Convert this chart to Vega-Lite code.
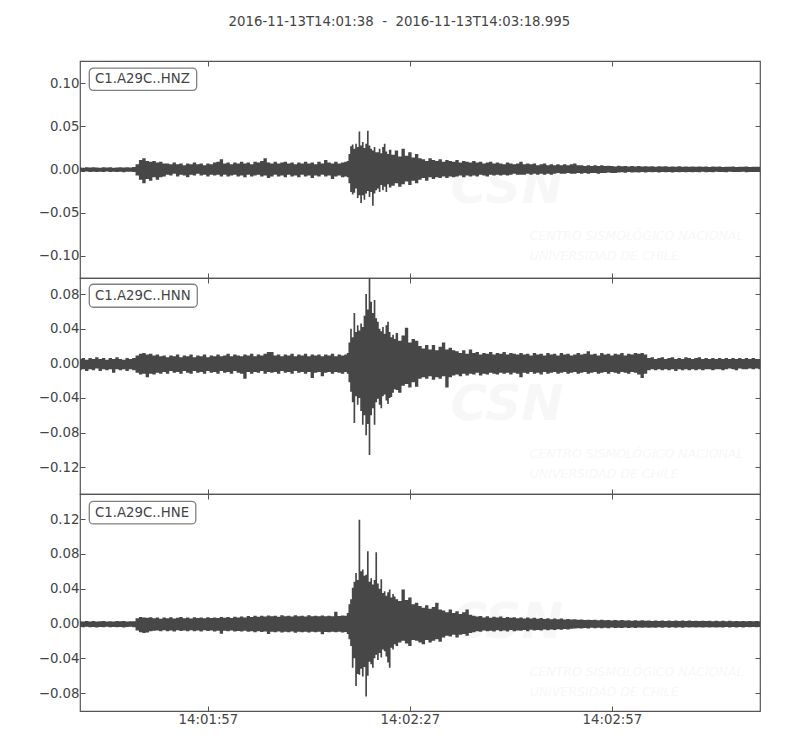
{
"$schema":"https://vega.github.io/schema/vega-lite/v6.json",
"background":"white",
"padding":{"left":37,"top":14,"right":40,"bottom":5},
"title":{"text":"2016-11-13T14:01:38\u00a0\u00a0-\u00a0\u00a02016-11-13T14:03:18.995","anchor":"middle","frame":"bounds","fontSize":13.3,"fontWeight":"normal","font":"DejaVu Sans","color":"#444444","offset":32},
"spacing":0,
"bounds":"flush",
"config":{"view":{"stroke":"#555555","strokeWidth":1.2},"axis":{"labelFont":"DejaVu Sans","labelFontSize":13.3,"labelColor":"#444444","tickColor":"#555555","tickSize":-5,"domain":false,"grid":false,"title":null,"labelPadding":6},"text":{"font":"DejaVu Sans"}},
"datasets":{
"hnz":[
{"t":0,"lo":-0.0026,"hi":0.0024},{"t":0.5,"lo":-0.0029,"hi":0.0021},{"t":1,"lo":-0.0024,"hi":0.0026},{"t":1.5,"lo":-0.003,"hi":0.0022},{"t":2,"lo":-0.0025,"hi":0.0027},{"t":2.5,"lo":-0.0028,"hi":0.0023},{"t":3,"lo":-0.0026,"hi":0.002},{"t":3.5,"lo":-0.003,"hi":0.0025},{"t":4,"lo":-0.0024,"hi":0.0022},{"t":4.5,"lo":-0.0028,"hi":0.0026},{"t":5,"lo":-0.0025,"hi":0.0021},{"t":5.5,"lo":-0.0029,"hi":0.0024},{"t":6,"lo":-0.0026,"hi":0.0027},{"t":6.5,"lo":-0.0031,"hi":0.0022},{"t":7,"lo":-0.0027,"hi":0.0025},{"t":7.5,"lo":-0.0025,"hi":0.0023},{"t":8,"lo":-0.003,"hi":0.0028},
{"t":8.5,"lo":-0.007,"hi":0.006},{"t":9,"lo":-0.012,"hi":0.011},{"t":9.5,"lo":-0.016,"hi":0.013},{"t":10,"lo":-0.011,"hi":0.01},{"t":10.5,"lo":-0.013,"hi":0.009},{"t":11,"lo":-0.009,"hi":0.01},{"t":11.5,"lo":-0.012,"hi":0.008},{"t":12,"lo":-0.009,"hi":0.009},{"t":12.5,"lo":-0.008,"hi":0.007},
{"t":13,"lo":-0.006,"hi":0.007},{"t":13.5,"lo":-0.007,"hi":0.006},{"t":14,"lo":-0.005,"hi":0.008},{"t":14.5,"lo":-0.008,"hi":0.006},{"t":15,"lo":-0.006,"hi":0.007},{"t":15.5,"lo":-0.007,"hi":0.005},{"t":16,"lo":-0.009,"hi":0.007},{"t":16.5,"lo":-0.006,"hi":0.006},{"t":17,"lo":-0.007,"hi":0.008},{"t":17.5,"lo":-0.005,"hi":0.006},{"t":18,"lo":-0.007,"hi":0.007},{"t":18.5,"lo":-0.006,"hi":0.005},{"t":19,"lo":-0.008,"hi":0.007},{"t":19.5,"lo":-0.006,"hi":0.006},{"t":20,"lo":-0.007,"hi":0.008},{"t":20.5,"lo":-0.006,"hi":0.009},{"t":21,"lo":-0.008,"hi":0.012},{"t":21.5,"lo":-0.006,"hi":0.007},{"t":22,"lo":-0.008,"hi":0.008},{"t":22.5,"lo":-0.007,"hi":0.006},{"t":23,"lo":-0.006,"hi":0.008},{"t":23.5,"lo":-0.008,"hi":0.007},{"t":24,"lo":-0.007,"hi":0.009},{"t":24.5,"lo":-0.009,"hi":0.007},{"t":25,"lo":-0.006,"hi":0.008},{"t":25.5,"lo":-0.008,"hi":0.006},{"t":26,"lo":-0.007,"hi":0.009},{"t":26.5,"lo":-0.006,"hi":0.008},{"t":27,"lo":-0.008,"hi":0.01},{"t":27.5,"lo":-0.007,"hi":0.013},{"t":28,"lo":-0.01,"hi":0.008},{"t":28.5,"lo":-0.008,"hi":0.007},{"t":29,"lo":-0.006,"hi":0.009},{"t":29.5,"lo":-0.008,"hi":0.007},{"t":30,"lo":-0.007,"hi":0.008},{"t":30.5,"lo":-0.009,"hi":0.009},{"t":31,"lo":-0.006,"hi":0.007},{"t":31.5,"lo":-0.008,"hi":0.008},{"t":32,"lo":-0.007,"hi":0.006},{"t":32.5,"lo":-0.009,"hi":0.008},{"t":33,"lo":-0.006,"hi":0.007},{"t":33.5,"lo":-0.008,"hi":0.009},{"t":34,"lo":-0.007,"hi":0.007},{"t":34.5,"lo":-0.01,"hi":0.008},{"t":35,"lo":-0.007,"hi":0.006},{"t":35.5,"lo":-0.008,"hi":0.009},{"t":36,"lo":-0.006,"hi":0.007},{"t":36.5,"lo":-0.008,"hi":0.011},{"t":37,"lo":-0.007,"hi":0.008},{"t":37.5,"lo":-0.011,"hi":0.007},{"t":38,"lo":-0.008,"hi":0.009},{"t":38.5,"lo":-0.007,"hi":0.007},{"t":39,"lo":-0.009,"hi":0.008},{"t":39.5,"lo":-0.008,"hi":0.009},
{"t":39.75,"lo":-0.009,"hi":0.01},{"t":40,"lo":-0.016,"hi":0.018},{"t":40.25,"lo":-0.026,"hi":0.027},{"t":40.5,"lo":-0.029,"hi":0.029},{"t":40.75,"lo":-0.027,"hi":0.024},{"t":41,"lo":-0.022,"hi":0.03},{"t":41.25,"lo":-0.033,"hi":0.026},{"t":41.5,"lo":-0.03,"hi":0.044},{"t":41.75,"lo":-0.039,"hi":0.028},{"t":42,"lo":-0.03,"hi":0.032},{"t":42.25,"lo":-0.035,"hi":0.025},{"t":42.5,"lo":-0.028,"hi":0.03},{"t":42.75,"lo":-0.025,"hi":0.045},{"t":43,"lo":-0.032,"hi":0.028},{"t":43.25,"lo":-0.026,"hi":0.024},{"t":43.5,"lo":-0.042,"hi":0.022},{"t":43.75,"lo":-0.028,"hi":0.026},{"t":44,"lo":-0.024,"hi":0.02},{"t":44.25,"lo":-0.022,"hi":0.02},{"t":44.5,"lo":-0.026,"hi":0.024},{"t":44.75,"lo":-0.018,"hi":0.019},{"t":45,"lo":-0.024,"hi":0.026},{"t":45.25,"lo":-0.02,"hi":0.03},{"t":45.5,"lo":-0.026,"hi":0.021},{"t":45.75,"lo":-0.017,"hi":0.018},{"t":46,"lo":-0.021,"hi":0.023},{"t":46.5,"lo":-0.019,"hi":0.017},{"t":47,"lo":-0.016,"hi":0.022},{"t":47.5,"lo":-0.02,"hi":0.015},{"t":48,"lo":-0.017,"hi":0.024},{"t":48.5,"lo":-0.014,"hi":0.016},{"t":49,"lo":-0.018,"hi":0.02},{"t":49.5,"lo":-0.013,"hi":0.014},{"t":50,"lo":-0.016,"hi":0.018},{"t":50.5,"lo":-0.012,"hi":0.013},
{"t":51,"lo":-0.01,"hi":0.012},{"t":51.5,"lo":-0.013,"hi":0.01},{"t":52,"lo":-0.009,"hi":0.013},{"t":52.5,"lo":-0.011,"hi":0.011},{"t":53,"lo":-0.009,"hi":0.01},{"t":53.5,"lo":-0.01,"hi":0.012},{"t":54,"lo":-0.008,"hi":0.009},{"t":54.5,"lo":-0.01,"hi":0.011},{"t":55,"lo":-0.008,"hi":0.01},{"t":55.5,"lo":-0.009,"hi":0.009},{"t":56,"lo":-0.008,"hi":0.011},{"t":56.5,"lo":-0.007,"hi":0.008},{"t":57,"lo":-0.009,"hi":0.01},{"t":57.5,"lo":-0.007,"hi":0.009},{"t":58,"lo":-0.008,"hi":0.008},{"t":58.5,"lo":-0.007,"hi":0.01},{"t":59,"lo":-0.008,"hi":0.008},{"t":59.5,"lo":-0.006,"hi":0.009},{"t":60,"lo":-0.007,"hi":0.007},{"t":60.5,"lo":-0.008,"hi":0.008},{"t":61,"lo":-0.006,"hi":0.009},{"t":61.5,"lo":-0.007,"hi":0.007},{"t":62,"lo":-0.006,"hi":0.008},{"t":62.5,"lo":-0.007,"hi":0.007},{"t":63,"lo":-0.006,"hi":0.006},{"t":63.5,"lo":-0.007,"hi":0.008},{"t":64,"lo":-0.006,"hi":0.007},{"t":64.5,"lo":-0.005,"hi":0.006},{"t":65,"lo":-0.006,"hi":0.007},{"t":65.5,"lo":-0.006,"hi":0.009},{"t":66,"lo":-0.006,"hi":0.006},{"t":66.5,"lo":-0.005,"hi":0.007},{"t":67,"lo":-0.006,"hi":0.006},{"t":67.5,"lo":-0.005,"hi":0.007},{"t":68,"lo":-0.006,"hi":0.005},{"t":68.5,"lo":-0.005,"hi":0.006},{"t":69,"lo":-0.006,"hi":0.007},{"t":69.5,"lo":-0.005,"hi":0.005},{"t":70,"lo":-0.006,"hi":0.006},{"t":70.5,"lo":-0.005,"hi":0.005},{"t":71,"lo":-0.004,"hi":0.006},{"t":71.5,"lo":-0.005,"hi":0.005},{"t":72,"lo":-0.005,"hi":0.006},{"t":72.5,"lo":-0.004,"hi":0.005},{"t":73,"lo":-0.005,"hi":0.006},{"t":73.5,"lo":-0.005,"hi":0.007},{"t":74,"lo":-0.004,"hi":0.005},{"t":74.5,"lo":-0.005,"hi":0.005},{"t":75,"lo":-0.004,"hi":0.004},{"t":75.5,"lo":-0.005,"hi":0.005},{"t":76,"lo":-0.004,"hi":0.004},{"t":76.5,"lo":-0.004,"hi":0.005},{"t":77,"lo":-0.005,"hi":0.004},{"t":77.5,"lo":-0.004,"hi":0.005},{"t":78,"lo":-0.004,"hi":0.004},{"t":78.5,"lo":-0.0035,"hi":0.0045},{"t":79,"lo":-0.004,"hi":0.004},{"t":79.5,"lo":-0.004,"hi":0.0035},{"t":80,"lo":-0.0035,"hi":0.0045},{"t":80.5,"lo":-0.0032,"hi":0.0038},{"t":81,"lo":-0.0038,"hi":0.0042},{"t":81.5,"lo":-0.003,"hi":0.0035},{"t":82,"lo":-0.0036,"hi":0.004},{"t":82.5,"lo":-0.0031,"hi":0.0036},{"t":83,"lo":-0.0035,"hi":0.0041},{"t":83.5,"lo":-0.003,"hi":0.0034},{"t":84,"lo":-0.0034,"hi":0.0039},{"t":84.5,"lo":-0.0029,"hi":0.0035},{"t":85,"lo":-0.0033,"hi":0.0038},{"t":85.5,"lo":-0.003,"hi":0.0033},{"t":86,"lo":-0.0034,"hi":0.0037},{"t":86.5,"lo":-0.0029,"hi":0.0034},{"t":87,"lo":-0.0032,"hi":0.0038},{"t":87.5,"lo":-0.003,"hi":0.0032},{"t":88,"lo":-0.0034,"hi":0.0036},{"t":88.5,"lo":-0.0028,"hi":0.0033},{"t":89,"lo":-0.0032,"hi":0.0037},{"t":89.5,"lo":-0.0029,"hi":0.0032},{"t":90,"lo":-0.0033,"hi":0.0035},{"t":90.5,"lo":-0.0028,"hi":0.0031},{"t":91,"lo":-0.0031,"hi":0.0036},{"t":91.5,"lo":-0.0029,"hi":0.0032},{"t":92,"lo":-0.0032,"hi":0.0035},{"t":92.5,"lo":-0.0027,"hi":0.0031},{"t":93,"lo":-0.0031,"hi":0.0034},{"t":93.5,"lo":-0.0028,"hi":0.003},{"t":94,"lo":-0.0032,"hi":0.0035},{"t":94.5,"lo":-0.0027,"hi":0.0031},{"t":95,"lo":-0.003,"hi":0.0034},{"t":95.5,"lo":-0.0028,"hi":0.003},{"t":96,"lo":-0.0031,"hi":0.0033},{"t":96.5,"lo":-0.0027,"hi":0.0031},{"t":97,"lo":-0.003,"hi":0.0034},{"t":97.5,"lo":-0.0028,"hi":0.003},{"t":98,"lo":-0.003,"hi":0.0033},{"t":98.5,"lo":-0.0027,"hi":0.0031},{"t":99,"lo":-0.0031,"hi":0.0034},{"t":99.5,"lo":-0.0028,"hi":0.003},{"t":100,"lo":-0.0029,"hi":0.0033},{"t":100.5,"lo":-0.0028,"hi":0.0031},{"t":101,"lo":-0.003,"hi":0.0032}
],
"hnn":[
{"t":0,"lo":-0.008,"hi":0.005},{"t":0.5,"lo":-0.007,"hi":0.006},{"t":1,"lo":-0.009,"hi":0.004},{"t":1.5,"lo":-0.007,"hi":0.006},{"t":2,"lo":-0.008,"hi":0.005},{"t":2.5,"lo":-0.006,"hi":0.007},{"t":3,"lo":-0.009,"hi":0.005},{"t":3.5,"lo":-0.007,"hi":0.006},{"t":4,"lo":-0.008,"hi":0.004},{"t":4.5,"lo":-0.007,"hi":0.006},{"t":5,"lo":-0.011,"hi":0.005},{"t":5.5,"lo":-0.007,"hi":0.007},{"t":6,"lo":-0.008,"hi":0.005},{"t":6.5,"lo":-0.007,"hi":0.004},{"t":7,"lo":-0.009,"hi":0.006},{"t":7.5,"lo":-0.007,"hi":0.005},{"t":8,"lo":-0.008,"hi":0.006},
{"t":8.5,"lo":-0.011,"hi":0.009},{"t":9,"lo":-0.013,"hi":0.011},{"t":9.5,"lo":-0.012,"hi":0.012},{"t":10,"lo":-0.016,"hi":0.01},{"t":10.5,"lo":-0.012,"hi":0.011},{"t":11,"lo":-0.013,"hi":0.009},{"t":11.5,"lo":-0.011,"hi":0.01},{"t":12,"lo":-0.012,"hi":0.008},{"t":12.5,"lo":-0.01,"hi":0.009},
{"t":13,"lo":-0.012,"hi":0.007},{"t":13.5,"lo":-0.009,"hi":0.009},{"t":14,"lo":-0.011,"hi":0.008},{"t":14.5,"lo":-0.01,"hi":0.01},{"t":15,"lo":-0.012,"hi":0.007},{"t":15.5,"lo":-0.009,"hi":0.009},{"t":16,"lo":-0.011,"hi":0.008},{"t":16.5,"lo":-0.012,"hi":0.01},{"t":17,"lo":-0.009,"hi":0.007},{"t":17.5,"lo":-0.011,"hi":0.009},{"t":18,"lo":-0.01,"hi":0.008},{"t":18.5,"lo":-0.012,"hi":0.01},{"t":19,"lo":-0.009,"hi":0.007},{"t":19.5,"lo":-0.011,"hi":0.009},{"t":20,"lo":-0.01,"hi":0.008},{"t":20.5,"lo":-0.012,"hi":0.01},{"t":21,"lo":-0.009,"hi":0.008},{"t":21.5,"lo":-0.011,"hi":0.009},{"t":22,"lo":-0.01,"hi":0.011},{"t":22.5,"lo":-0.012,"hi":0.008},{"t":23,"lo":-0.009,"hi":0.01},{"t":23.5,"lo":-0.011,"hi":0.009},{"t":24,"lo":-0.012,"hi":0.008},{"t":24.5,"lo":-0.018,"hi":0.01},{"t":25,"lo":-0.01,"hi":0.009},{"t":25.5,"lo":-0.012,"hi":0.011},{"t":26,"lo":-0.01,"hi":0.008},{"t":26.5,"lo":-0.011,"hi":0.01},{"t":27,"lo":-0.009,"hi":0.009},{"t":27.5,"lo":-0.012,"hi":0.011},{"t":28,"lo":-0.01,"hi":0.013},{"t":28.5,"lo":-0.011,"hi":0.013},{"t":29,"lo":-0.01,"hi":0.009},{"t":29.5,"lo":-0.012,"hi":0.01},{"t":30,"lo":-0.009,"hi":0.008},{"t":30.5,"lo":-0.011,"hi":0.01},{"t":31,"lo":-0.01,"hi":0.009},{"t":31.5,"lo":-0.012,"hi":0.011},{"t":32,"lo":-0.009,"hi":0.008},{"t":32.5,"lo":-0.011,"hi":0.01},{"t":33,"lo":-0.01,"hi":0.009},{"t":33.5,"lo":-0.012,"hi":0.011},{"t":34,"lo":-0.01,"hi":0.008},{"t":34.5,"lo":-0.017,"hi":0.01},{"t":35,"lo":-0.011,"hi":0.009},{"t":35.5,"lo":-0.01,"hi":0.01},{"t":36,"lo":-0.015,"hi":0.008},{"t":36.5,"lo":-0.011,"hi":0.01},{"t":37,"lo":-0.01,"hi":0.009},{"t":37.5,"lo":-0.012,"hi":0.011},{"t":38,"lo":-0.01,"hi":0.008},{"t":38.5,"lo":-0.011,"hi":0.01},{"t":39,"lo":-0.012,"hi":0.009},{"t":39.5,"lo":-0.01,"hi":0.01},
{"t":39.75,"lo":-0.012,"hi":0.012},{"t":40,"lo":-0.022,"hi":0.024},{"t":40.25,"lo":-0.033,"hi":0.04},{"t":40.5,"lo":-0.045,"hi":0.03},{"t":40.75,"lo":-0.069,"hi":0.058},{"t":41,"lo":-0.038,"hi":0.036},{"t":41.25,"lo":-0.048,"hi":0.044},{"t":41.5,"lo":-0.04,"hi":0.038},{"t":41.75,"lo":-0.055,"hi":0.046},{"t":42,"lo":-0.071,"hi":0.042},{"t":42.25,"lo":-0.06,"hi":0.055},{"t":42.5,"lo":-0.083,"hi":0.08},{"t":42.75,"lo":-0.07,"hi":0.062},{"t":43,"lo":-0.106,"hi":0.0985},{"t":43.25,"lo":-0.06,"hi":0.071},{"t":43.5,"lo":-0.052,"hi":0.058},{"t":43.75,"lo":-0.071,"hi":0.073},{"t":44,"lo":-0.045,"hi":0.052},{"t":44.25,"lo":-0.041,"hi":0.048},{"t":44.5,"lo":-0.048,"hi":0.04},{"t":44.75,"lo":-0.052,"hi":0.037},{"t":45,"lo":-0.038,"hi":0.042},{"t":45.25,"lo":-0.036,"hi":0.034},{"t":45.5,"lo":-0.043,"hi":0.044},{"t":45.75,"lo":-0.047,"hi":0.048},{"t":46,"lo":-0.04,"hi":0.036},{"t":46.25,"lo":-0.039,"hi":0.03},{"t":46.5,"lo":-0.034,"hi":0.033},{"t":46.75,"lo":-0.03,"hi":0.028},{"t":47,"lo":-0.031,"hi":0.035},{"t":47.5,"lo":-0.034,"hi":0.026},{"t":48,"lo":-0.026,"hi":0.032},{"t":48.5,"lo":-0.024,"hi":0.041},{"t":49,"lo":-0.028,"hi":0.024},{"t":49.5,"lo":-0.022,"hi":0.028},{"t":50,"lo":-0.027,"hi":0.026},{"t":50.5,"lo":-0.018,"hi":0.02},
{"t":51,"lo":-0.016,"hi":0.017},{"t":51.5,"lo":-0.018,"hi":0.021},{"t":52,"lo":-0.015,"hi":0.016},{"t":52.5,"lo":-0.019,"hi":0.021},{"t":53,"lo":-0.016,"hi":0.015},{"t":53.5,"lo":-0.018,"hi":0.019},{"t":54,"lo":-0.015,"hi":0.024},{"t":54.5,"lo":-0.028,"hi":0.016},{"t":55,"lo":-0.016,"hi":0.018},{"t":55.5,"lo":-0.014,"hi":0.015},{"t":56,"lo":-0.013,"hi":0.014},{"t":56.5,"lo":-0.015,"hi":0.012},{"t":57,"lo":-0.012,"hi":0.015},{"t":57.5,"lo":-0.014,"hi":0.011},{"t":58,"lo":-0.012,"hi":0.016},{"t":58.5,"lo":-0.013,"hi":0.012},{"t":59,"lo":-0.011,"hi":0.013},{"t":59.5,"lo":-0.014,"hi":0.01},{"t":60,"lo":-0.012,"hi":0.012},{"t":60.5,"lo":-0.013,"hi":0.011},{"t":61,"lo":-0.011,"hi":0.013},{"t":61.5,"lo":-0.012,"hi":0.01},{"t":62,"lo":-0.013,"hi":0.012},{"t":62.5,"lo":-0.011,"hi":0.011},{"t":63,"lo":-0.012,"hi":0.013},{"t":63.5,"lo":-0.011,"hi":0.01},{"t":64,"lo":-0.013,"hi":0.012},{"t":64.5,"lo":-0.011,"hi":0.011},{"t":65,"lo":-0.012,"hi":0.01},{"t":65.5,"lo":-0.016,"hi":0.012},{"t":66,"lo":-0.011,"hi":0.01},{"t":66.5,"lo":-0.012,"hi":0.011},{"t":67,"lo":-0.01,"hi":0.009},{"t":67.5,"lo":-0.012,"hi":0.012},{"t":68,"lo":-0.011,"hi":0.01},{"t":68.5,"lo":-0.013,"hi":0.011},{"t":69,"lo":-0.01,"hi":0.009},{"t":69.5,"lo":-0.012,"hi":0.012},{"t":70,"lo":-0.011,"hi":0.01},{"t":70.5,"lo":-0.01,"hi":0.011},{"t":71,"lo":-0.012,"hi":0.009},{"t":71.5,"lo":-0.011,"hi":0.012},{"t":72,"lo":-0.01,"hi":0.01},{"t":72.5,"lo":-0.012,"hi":0.011},{"t":73,"lo":-0.011,"hi":0.009},{"t":73.5,"lo":-0.01,"hi":0.01},{"t":74,"lo":-0.012,"hi":0.012},{"t":74.5,"lo":-0.011,"hi":0.01},{"t":75,"lo":-0.01,"hi":0.011},{"t":75.5,"lo":-0.012,"hi":0.014},{"t":76,"lo":-0.011,"hi":0.01},{"t":76.5,"lo":-0.01,"hi":0.011},{"t":77,"lo":-0.012,"hi":0.009},{"t":77.5,"lo":-0.011,"hi":0.012},{"t":78,"lo":-0.01,"hi":0.01},{"t":78.5,"lo":-0.012,"hi":0.011},{"t":79,"lo":-0.01,"hi":0.009},{"t":79.5,"lo":-0.011,"hi":0.011},{"t":80,"lo":-0.012,"hi":0.01},{"t":80.5,"lo":-0.01,"hi":0.012},{"t":81,"lo":-0.011,"hi":0.009},{"t":81.5,"lo":-0.012,"hi":0.011},{"t":82,"lo":-0.01,"hi":0.01},{"t":82.5,"lo":-0.011,"hi":0.012},{"t":83,"lo":-0.013,"hi":0.011},{"t":83.5,"lo":-0.017,"hi":0.012},{"t":84,"lo":-0.012,"hi":0.01},
{"t":84.5,"lo":-0.008,"hi":0.006},{"t":85,"lo":-0.007,"hi":0.007},{"t":85.5,"lo":-0.008,"hi":0.005},{"t":86,"lo":-0.007,"hi":0.006},{"t":86.5,"lo":-0.008,"hi":0.007},{"t":87,"lo":-0.007,"hi":0.005},{"t":87.5,"lo":-0.008,"hi":0.006},{"t":88,"lo":-0.007,"hi":0.007},{"t":88.5,"lo":-0.009,"hi":0.005},{"t":89,"lo":-0.007,"hi":0.006},{"t":89.5,"lo":-0.008,"hi":0.005},{"t":90,"lo":-0.007,"hi":0.007},{"t":90.5,"lo":-0.008,"hi":0.006},{"t":91,"lo":-0.007,"hi":0.005},{"t":91.5,"lo":-0.008,"hi":0.006},{"t":92,"lo":-0.007,"hi":0.007},{"t":92.5,"lo":-0.008,"hi":0.005},{"t":93,"lo":-0.007,"hi":0.006},{"t":93.5,"lo":-0.007,"hi":0.005},{"t":94,"lo":-0.008,"hi":0.006},{"t":94.5,"lo":-0.007,"hi":0.005},{"t":95,"lo":-0.007,"hi":0.006},{"t":95.5,"lo":-0.008,"hi":0.005},{"t":96,"lo":-0.007,"hi":0.006},{"t":96.5,"lo":-0.006,"hi":0.005},{"t":97,"lo":-0.007,"hi":0.006},{"t":97.5,"lo":-0.008,"hi":0.005},{"t":98,"lo":-0.006,"hi":0.006},{"t":98.5,"lo":-0.007,"hi":0.005},{"t":99,"lo":-0.007,"hi":0.006},{"t":99.5,"lo":-0.006,"hi":0.005},{"t":100,"lo":-0.007,"hi":0.006},{"t":100.5,"lo":-0.006,"hi":0.005},{"t":101,"lo":-0.007,"hi":0.005}
],
"hne":[
{"t":0,"lo":-0.004,"hi":0.0027},{"t":0.5,"lo":-0.0044,"hi":0.0023},{"t":1,"lo":-0.0038,"hi":0.0028},{"t":1.5,"lo":-0.0043,"hi":0.0024},{"t":2,"lo":-0.0039,"hi":0.0029},{"t":2.5,"lo":-0.0045,"hi":0.0022},{"t":3,"lo":-0.004,"hi":0.0026},{"t":3.5,"lo":-0.0042,"hi":0.003},{"t":4,"lo":-0.0038,"hi":0.0024},{"t":4.5,"lo":-0.0044,"hi":0.0027},{"t":5,"lo":-0.004,"hi":0.0023},{"t":5.5,"lo":-0.0043,"hi":0.0028},{"t":6,"lo":-0.0039,"hi":0.0025},{"t":6.5,"lo":-0.0045,"hi":0.0029},{"t":7,"lo":-0.0041,"hi":0.0024},{"t":7.5,"lo":-0.0038,"hi":0.0027},{"t":8,"lo":-0.0042,"hi":0.0025},
{"t":8.5,"lo":-0.008,"hi":0.006},{"t":9,"lo":-0.01,"hi":0.0075},{"t":9.5,"lo":-0.011,"hi":0.007},{"t":10,"lo":-0.0105,"hi":0.0065},{"t":10.5,"lo":-0.009,"hi":0.0072},{"t":11,"lo":-0.0085,"hi":0.006},{"t":11.5,"lo":-0.008,"hi":0.0068},{"t":12,"lo":-0.009,"hi":0.0055},{"t":12.5,"lo":-0.0078,"hi":0.007},{"t":13,"lo":-0.0088,"hi":0.006},{"t":13.5,"lo":-0.0082,"hi":0.0072},{"t":14,"lo":-0.0092,"hi":0.0058},{"t":14.5,"lo":-0.0079,"hi":0.0066},{"t":15,"lo":-0.0087,"hi":0.0074},{"t":15.5,"lo":-0.008,"hi":0.006},{"t":16,"lo":-0.009,"hi":0.0068},{"t":16.5,"lo":-0.0078,"hi":0.0058},{"t":17,"lo":-0.0088,"hi":0.0072},{"t":17.5,"lo":-0.0082,"hi":0.0062},{"t":18,"lo":-0.0091,"hi":0.007},{"t":18.5,"lo":-0.0079,"hi":0.0059},{"t":19,"lo":-0.0086,"hi":0.0073},{"t":19.5,"lo":-0.0081,"hi":0.0064},{"t":20,"lo":-0.0092,"hi":0.007},{"t":20.5,"lo":-0.0084,"hi":0.0062},{"t":21,"lo":-0.0118,"hi":0.0076},{"t":21.5,"lo":-0.0085,"hi":0.0066},{"t":22,"lo":-0.009,"hi":0.0074},{"t":22.5,"lo":-0.0082,"hi":0.0063},{"t":23,"lo":-0.0093,"hi":0.0078},{"t":23.5,"lo":-0.0086,"hi":0.0068},{"t":24,"lo":-0.0091,"hi":0.008},{"t":24.5,"lo":-0.0084,"hi":0.007},{"t":25,"lo":-0.0095,"hi":0.0085},{"t":25.5,"lo":-0.0088,"hi":0.0074},{"t":26,"lo":-0.01,"hi":0.009},{"t":26.5,"lo":-0.009,"hi":0.0078},{"t":27,"lo":-0.0098,"hi":0.0088},{"t":27.5,"lo":-0.0092,"hi":0.008},{"t":28,"lo":-0.0122,"hi":0.0092},{"t":28.5,"lo":-0.0096,"hi":0.0082},{"t":29,"lo":-0.01,"hi":0.009},{"t":29.5,"lo":-0.0092,"hi":0.0078},{"t":30,"lo":-0.0104,"hi":0.0094},{"t":30.5,"lo":-0.0094,"hi":0.0084},{"t":31,"lo":-0.01,"hi":0.009},{"t":31.5,"lo":-0.0092,"hi":0.008},{"t":32,"lo":-0.0106,"hi":0.0096},{"t":32.5,"lo":-0.0096,"hi":0.0084},{"t":33,"lo":-0.01,"hi":0.009},{"t":33.5,"lo":-0.0094,"hi":0.008},{"t":34,"lo":-0.0104,"hi":0.0094},{"t":34.5,"lo":-0.0096,"hi":0.0084},{"t":35,"lo":-0.0102,"hi":0.009},{"t":35.5,"lo":-0.0094,"hi":0.0082},{"t":36,"lo":-0.0125,"hi":0.0092},{"t":36.5,"lo":-0.0098,"hi":0.0084},{"t":37,"lo":-0.0102,"hi":0.009},{"t":37.5,"lo":-0.0094,"hi":0.0082},{"t":38,"lo":-0.01,"hi":0.0134},{"t":38.5,"lo":-0.0096,"hi":0.0086},{"t":39,"lo":-0.0104,"hi":0.0092},{"t":39.5,"lo":-0.0098,"hi":0.009},
{"t":39.75,"lo":-0.012,"hi":0.012},{"t":40,"lo":-0.018,"hi":0.022},{"t":40.25,"lo":-0.026,"hi":0.028},{"t":40.5,"lo":-0.051,"hi":0.041},{"t":40.75,"lo":-0.04,"hi":0.048},{"t":41,"lo":-0.072,"hi":0.058},{"t":41.25,"lo":-0.058,"hi":0.05},{"t":41.5,"lo":-0.059,"hi":0.1195},{"t":41.75,"lo":-0.052,"hi":0.06},{"t":42,"lo":-0.061,"hi":0.062},{"t":42.25,"lo":-0.05,"hi":0.055},{"t":42.5,"lo":-0.084,"hi":0.056},{"t":42.75,"lo":-0.06,"hi":0.083},{"t":43,"lo":-0.044,"hi":0.048},{"t":43.25,"lo":-0.047,"hi":0.052},{"t":43.5,"lo":-0.051,"hi":0.045},{"t":43.75,"lo":-0.04,"hi":0.05},{"t":44,"lo":-0.036,"hi":0.082},{"t":44.25,"lo":-0.042,"hi":0.046},{"t":44.5,"lo":-0.034,"hi":0.04},{"t":44.75,"lo":-0.039,"hi":0.051},{"t":45,"lo":-0.03,"hi":0.035},{"t":45.25,"lo":-0.032,"hi":0.037},{"t":45.5,"lo":-0.038,"hi":0.032},{"t":45.75,"lo":-0.045,"hi":0.036},{"t":46,"lo":-0.051,"hi":0.039},{"t":46.25,"lo":-0.028,"hi":0.03},{"t":46.5,"lo":-0.03,"hi":0.034},{"t":46.75,"lo":-0.024,"hi":0.031},{"t":47,"lo":-0.026,"hi":0.028},{"t":47.5,"lo":-0.022,"hi":0.026},{"t":48,"lo":-0.02,"hi":0.039},{"t":48.5,"lo":-0.023,"hi":0.027},{"t":49,"lo":-0.026,"hi":0.03},{"t":49.5,"lo":-0.019,"hi":0.022},{"t":50,"lo":-0.02,"hi":0.024},{"t":50.5,"lo":-0.022,"hi":0.02},
{"t":51,"lo":-0.024,"hi":0.018},{"t":51.5,"lo":-0.019,"hi":0.021},{"t":52,"lo":-0.022,"hi":0.017},{"t":52.5,"lo":-0.02,"hi":0.019},{"t":53,"lo":-0.018,"hi":0.024},{"t":53.5,"lo":-0.021,"hi":0.016},{"t":54,"lo":-0.016,"hi":0.015},{"t":54.5,"lo":-0.014,"hi":0.013},{"t":55,"lo":-0.015,"hi":0.016},{"t":55.5,"lo":-0.013,"hi":0.012},{"t":56,"lo":-0.016,"hi":0.014},{"t":56.5,"lo":-0.013,"hi":0.011},{"t":57,"lo":-0.012,"hi":0.013},{"t":57.5,"lo":-0.014,"hi":0.016},{"t":58,"lo":-0.011,"hi":0.01},{"t":58.5,"lo":-0.01,"hi":0.009},{"t":59,"lo":-0.009,"hi":0.008},{"t":59.5,"lo":-0.0095,"hi":0.0085},{"t":60,"lo":-0.008,"hi":0.007},{"t":60.5,"lo":-0.009,"hi":0.0082},{"t":61,"lo":-0.0085,"hi":0.0065},{"t":61.5,"lo":-0.0092,"hi":0.0078},{"t":62,"lo":-0.0078,"hi":0.0068},{"t":62.5,"lo":-0.0088,"hi":0.008},{"t":63,"lo":-0.0082,"hi":0.0062},{"t":63.5,"lo":-0.0092,"hi":0.0075},{"t":64,"lo":-0.0076,"hi":0.0065},{"t":64.5,"lo":-0.0088,"hi":0.0072},{"t":65,"lo":-0.008,"hi":0.006},{"t":65.5,"lo":-0.0085,"hi":0.007},{"t":66,"lo":-0.0075,"hi":0.0058},{"t":66.5,"lo":-0.009,"hi":0.0068},{"t":67,"lo":-0.0072,"hi":0.0056},{"t":67.5,"lo":-0.0082,"hi":0.0066},{"t":68,"lo":-0.0074,"hi":0.0054},{"t":68.5,"lo":-0.008,"hi":0.0064},{"t":69,"lo":-0.007,"hi":0.0052},{"t":69.5,"lo":-0.0078,"hi":0.006},{"t":70,"lo":-0.0068,"hi":0.005},{"t":70.5,"lo":-0.0076,"hi":0.0058},{"t":71,"lo":-0.0066,"hi":0.0048},{"t":71.5,"lo":-0.0072,"hi":0.0056},{"t":72,"lo":-0.0064,"hi":0.0047},{"t":72.5,"lo":-0.0068,"hi":0.0052},{"t":73,"lo":-0.006,"hi":0.0045},{"t":73.5,"lo":-0.0057,"hi":0.0048},{"t":74,"lo":-0.0054,"hi":0.0042},{"t":74.5,"lo":-0.0058,"hi":0.0046},{"t":75,"lo":-0.0052,"hi":0.004},{"t":75.5,"lo":-0.0057,"hi":0.0044},{"t":76,"lo":-0.005,"hi":0.0039},{"t":76.5,"lo":-0.0055,"hi":0.0043},{"t":77,"lo":-0.0049,"hi":0.0037},{"t":77.5,"lo":-0.0055,"hi":0.0042},{"t":78,"lo":-0.0048,"hi":0.0036},{"t":78.5,"lo":-0.0054,"hi":0.0041},{"t":79,"lo":-0.0047,"hi":0.0035},{"t":79.5,"lo":-0.0053,"hi":0.004},{"t":80,"lo":-0.0048,"hi":0.0034},{"t":80.5,"lo":-0.0052,"hi":0.0039},{"t":81,"lo":-0.0046,"hi":0.0033},{"t":81.5,"lo":-0.0052,"hi":0.0038},{"t":82,"lo":-0.0047,"hi":0.0032},{"t":82.5,"lo":-0.0051,"hi":0.0037},{"t":83,"lo":-0.0046,"hi":0.0031},{"t":83.5,"lo":-0.005,"hi":0.0036},{"t":84,"lo":-0.0045,"hi":0.0031},{"t":84.5,"lo":-0.005,"hi":0.0035},{"t":85,"lo":-0.0045,"hi":0.003},{"t":85.5,"lo":-0.0049,"hi":0.0035},{"t":86,"lo":-0.0044,"hi":0.003},{"t":86.5,"lo":-0.0049,"hi":0.0034},{"t":87,"lo":-0.0044,"hi":0.003},{"t":87.5,"lo":-0.0048,"hi":0.0034},{"t":88,"lo":-0.0044,"hi":0.0029},{"t":88.5,"lo":-0.0048,"hi":0.0034},{"t":89,"lo":-0.0043,"hi":0.0029},{"t":89.5,"lo":-0.0048,"hi":0.0033},{"t":90,"lo":-0.0043,"hi":0.0029},{"t":90.5,"lo":-0.0047,"hi":0.0033},{"t":91,"lo":-0.0043,"hi":0.0028},{"t":91.5,"lo":-0.0047,"hi":0.0032},{"t":92,"lo":-0.0042,"hi":0.0028},{"t":92.5,"lo":-0.0047,"hi":0.0032},{"t":93,"lo":-0.0042,"hi":0.0028},{"t":93.5,"lo":-0.0046,"hi":0.0032},{"t":94,"lo":-0.0042,"hi":0.0027},{"t":94.5,"lo":-0.0046,"hi":0.0031},{"t":95,"lo":-0.0042,"hi":0.0027},{"t":95.5,"lo":-0.0046,"hi":0.0031},{"t":96,"lo":-0.0041,"hi":0.0027},{"t":96.5,"lo":-0.0045,"hi":0.0031},{"t":97,"lo":-0.0041,"hi":0.0027},{"t":97.5,"lo":-0.0045,"hi":0.003},{"t":98,"lo":-0.0041,"hi":0.0026},{"t":98.5,"lo":-0.0045,"hi":0.003},{"t":99,"lo":-0.0041,"hi":0.0026},{"t":99.5,"lo":-0.0044,"hi":0.003},{"t":100,"lo":-0.004,"hi":0.0026},{"t":100.5,"lo":-0.0044,"hi":0.0029},{"t":101,"lo":-0.004,"hi":0.0026}
]
},
"vconcat":[
{"width":680,"height":217,
"layer":[
{"data":{"values":[{}]},"mark":{"type":"text","text":"CSN","fontSize":50,"fontWeight":"bold","fontStyle":"italic","color":"#f7f7f7","align":"center","baseline":"middle"},"encoding":{"x":{"datum":63.4,"type":"quantitative","axis":null},"y":{"datum":-0.022,"type":"quantitative","axis":null}}},
{"data":{"values":[{}]},"mark":{"type":"text","text":["CENTRO SISMOLÓGICO NACIONAL","UNIVERSIDAD DE CHILE"],"fontSize":12.5,"fontStyle":"italic","color":"#f7f7f7","align":"left","baseline":"middle","lineHeight":20},"encoding":{"x":{"datum":66.8,"type":"quantitative","axis":null},"y":{"datum":-0.0774,"type":"quantitative","axis":null}}},
{"data":{"name":"hnz"},"mark":{"type":"area","color":"#474747","interpolate":"step"},"encoding":{"x":{"field":"t","type":"quantitative","scale":{"domain":[0,101],"nice":false,"zero":false},"axis":{"orient":"bottom","values":[19,49,79],"labels":false}},"y":{"field":"hi","type":"quantitative","scale":{"domain":[-0.126,0.126],"nice":false,"zero":false},"axis":{"orient":"left","values":[-0.1,-0.05,0,0.05,0.1],"format":".2f"}},"y2":{"field":"lo"}}},
{"data":{"values":[{}]},"mark":{"type":"rect","fill":"white","stroke":"#808080","strokeWidth":1.3,"cornerRadius":4},"encoding":{"x":{"datum":1.38,"type":"quantitative","axis":{"orient":"top","values":[19,49,79],"labels":false}},"x2":{"datum":17.33},"y":{"datum":0.1178,"type":"quantitative","axis":{"orient":"right","values":[-0.1,-0.05,0,0.05,0.1],"labels":false}},"y2":{"datum":0.0919}}},
{"data":{"values":[{}]},"mark":{"type":"text","text":"C1.A29C..HNZ","fontSize":13.3,"color":"#444444","align":"left","baseline":"middle"},"encoding":{"x":{"datum":2.23,"type":"quantitative","axis":null},"y":{"datum":0.1052,"type":"quantitative","axis":null}}}
],
"resolve":{"axis":{"x":"independent","y":"independent"}}},
{"width":680,"height":216,
"layer":[
{"data":{"values":[{}]},"mark":{"type":"text","text":"CSN","fontSize":50,"fontWeight":"bold","fontStyle":"italic","color":"#f7f7f7","align":"center","baseline":"middle"},"encoding":{"x":{"datum":63.4,"type":"quantitative","axis":null},"y":{"datum":-0.0486,"type":"quantitative","axis":null}}},
{"data":{"values":[{}]},"mark":{"type":"text","text":["CENTRO SISMOLÓGICO NACIONAL","UNIVERSIDAD DE CHILE"],"fontSize":12.5,"fontStyle":"italic","color":"#f7f7f7","align":"left","baseline":"middle","lineHeight":20},"encoding":{"x":{"datum":66.8,"type":"quantitative","axis":null},"y":{"datum":-0.1043,"type":"quantitative","axis":null}}},
{"data":{"name":"hnn"},"mark":{"type":"area","color":"#474747","interpolate":"step"},"encoding":{"x":{"field":"t","type":"quantitative","scale":{"domain":[0,101],"nice":false,"zero":false},"axis":{"orient":"bottom","values":[19,49,79],"labels":false}},"y":{"field":"hi","type":"quantitative","scale":{"domain":[-0.151,0.0985],"nice":false,"zero":false},"axis":{"orient":"left","values":[-0.12,-0.08,-0.04,0,0.04,0.08],"format":".2f"}},"y2":{"field":"lo"}}},
{"data":{"values":[{}]},"mark":{"type":"rect","fill":"white","stroke":"#808080","strokeWidth":1.3,"cornerRadius":4},"encoding":{"x":{"datum":1.38,"type":"quantitative","axis":{"orient":"top","values":[19,49,79],"labels":false}},"x2":{"datum":17.42},"y":{"datum":0.0913,"type":"quantitative","axis":{"orient":"right","values":[-0.12,-0.08,-0.04,0,0.04,0.08],"labels":false}},"y2":{"datum":0.0647}}},
{"data":{"values":[{}]},"mark":{"type":"text","text":"C1.A29C..HNN","fontSize":13.3,"color":"#444444","align":"left","baseline":"middle"},"encoding":{"x":{"datum":2.23,"type":"quantitative","axis":null},"y":{"datum":0.078,"type":"quantitative","axis":null}}}
],
"resolve":{"axis":{"x":"independent","y":"independent"}}},
{"width":680,"height":217,
"layer":[
{"data":{"values":[{}]},"mark":{"type":"text","text":"CSN","fontSize":50,"fontWeight":"bold","fontStyle":"italic","color":"#f7f7f7","align":"center","baseline":"middle"},"encoding":{"x":{"datum":63.4,"type":"quantitative","axis":null},"y":{"datum":0.001,"type":"quantitative","axis":null}}},
{"data":{"values":[{}]},"mark":{"type":"text","text":["CENTRO SISMOLÓGICO NACIONAL","UNIVERSIDAD DE CHILE"],"fontSize":12.5,"fontStyle":"italic","color":"#f7f7f7","align":"left","baseline":"middle","lineHeight":20},"encoding":{"x":{"datum":66.8,"type":"quantitative","axis":null},"y":{"datum":-0.0555,"type":"quantitative","axis":null}}},
{"data":{"name":"hne"},"mark":{"type":"area","color":"#474747","interpolate":"step"},"encoding":{"x":{"field":"t","type":"quantitative","scale":{"domain":[0,101],"nice":false,"zero":false},"axis":{"orient":"bottom","values":[19,49,79],"labelExpr":"timeFormat(datetime(2016,10,13,14,1,38+datum.value),'%H:%M:%S')"}},"y":{"field":"hi","type":"quantitative","scale":{"domain":[-0.1007,0.149],"nice":false,"zero":false},"axis":{"orient":"left","values":[-0.08,-0.04,0,0.04,0.08,0.12],"format":".2f"}},"y2":{"field":"lo"}}},
{"data":{"values":[{}]},"mark":{"type":"rect","fill":"white","stroke":"#808080","strokeWidth":1.3,"cornerRadius":4},"encoding":{"x":{"datum":1.38,"type":"quantitative","axis":{"orient":"top","values":[19,49,79],"labels":false}},"x2":{"datum":17.2},"y":{"datum":0.1406,"type":"quantitative","axis":{"orient":"right","values":[-0.08,-0.04,0,0.04,0.08,0.12],"labels":false}},"y2":{"datum":0.1146}}},
{"data":{"values":[{}]},"mark":{"type":"text","text":"C1.A29C..HNE","fontSize":13.3,"color":"#444444","align":"left","baseline":"middle"},"encoding":{"x":{"datum":2.23,"type":"quantitative","axis":null},"y":{"datum":0.1276,"type":"quantitative","axis":null}}}
],
"resolve":{"axis":{"x":"independent","y":"independent"}}}
]
}
